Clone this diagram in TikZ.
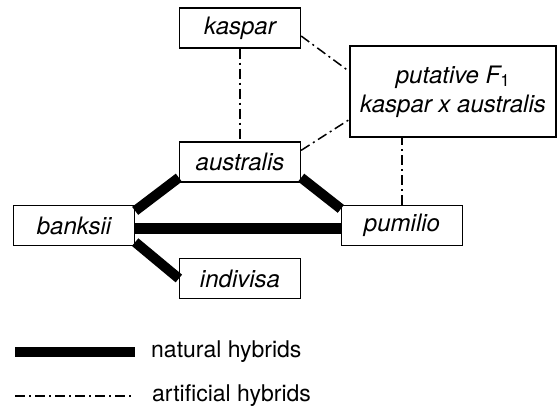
\documentclass[tikz,border=0pt]{standalone}
\usepackage{fontspec}
\setmainfont{TeX Gyre Heros}
\usetikzlibrary{positioning}

\begin{document}
\begin{tikzpicture}[
x=1pt, y=-1pt,
sbox/.style={rectangle, draw=black, line width=1.3pt, minimum width=121pt, minimum height=40pt, inner sep=2pt, font=\fontsize{24}{29}\selectfont\itshape},
natural/.style={line width=10pt},
artificial/.style={line width=1.5pt, dash pattern=on 10pt off 4pt on 2pt off 4pt},
lbl/.style={anchor=west, inner sep=0pt, font=\fontsize{23}{26}\selectfont},
]
\useasboundingbox (0,0) rectangle (558,412);

\node[sbox]      (kaspar)    at (240,28)    {kaspar};
\node[sbox]      (australis) at (240,162)   {australis};
\node[sbox]      (banksii)   at (74,225.5)  {banksii};
\node[sbox]      (pumilio)   at (402,225.5) {pumilio};
\node[sbox]      (indivisa)  at (240,278.5) {indivisa};
\node[sbox, minimum width=206pt, minimum height=91pt, align=center]
                 (putative)  at (453,91.5)  {putative F\textsubscript{\upshape 1}\\kaspar x australis};

% natural hybrids
\draw[natural] ([yshift=-6pt]banksii.north east) -- ([yshift=5pt]australis.south west);
\draw[natural] ([yshift=5pt]australis.south east) -- ([yshift=-4pt]pumilio.north west);
\draw[natural] ([yshift=-3pt]banksii.east) -- ([yshift=-3pt]pumilio.west);
\draw[natural] ([yshift=4pt]banksii.south east) -- (indivisa.west);

% artificial hybrids
\draw[artificial] (kaspar.south) -- (australis.north);
\draw[artificial] ([yshift=-8pt]kaspar.east) -- ([yshift=20pt]putative.west);
\draw[artificial] ([yshift=-9pt]australis.north east) -- ([yshift=-28pt]putative.west);
\draw[artificial] (pumilio.north) -- (pumilio.north |- putative.south);

% legend
\node[lbl]       (natlbl)    at (151,352)   {natural hybrids};
\node[lbl]       (artlbl)    at (152,396)   {artificial hybrids};
\coordinate (natstart) at (15,352);
\coordinate (natend)   at (135,352);
\coordinate (artstart) at (15,396);
\coordinate (artend)   at (131,396);
\draw[natural]    (natstart) -- (natend);
\draw[artificial] (artstart) -- (artend);

\end{tikzpicture}
\end{document}
